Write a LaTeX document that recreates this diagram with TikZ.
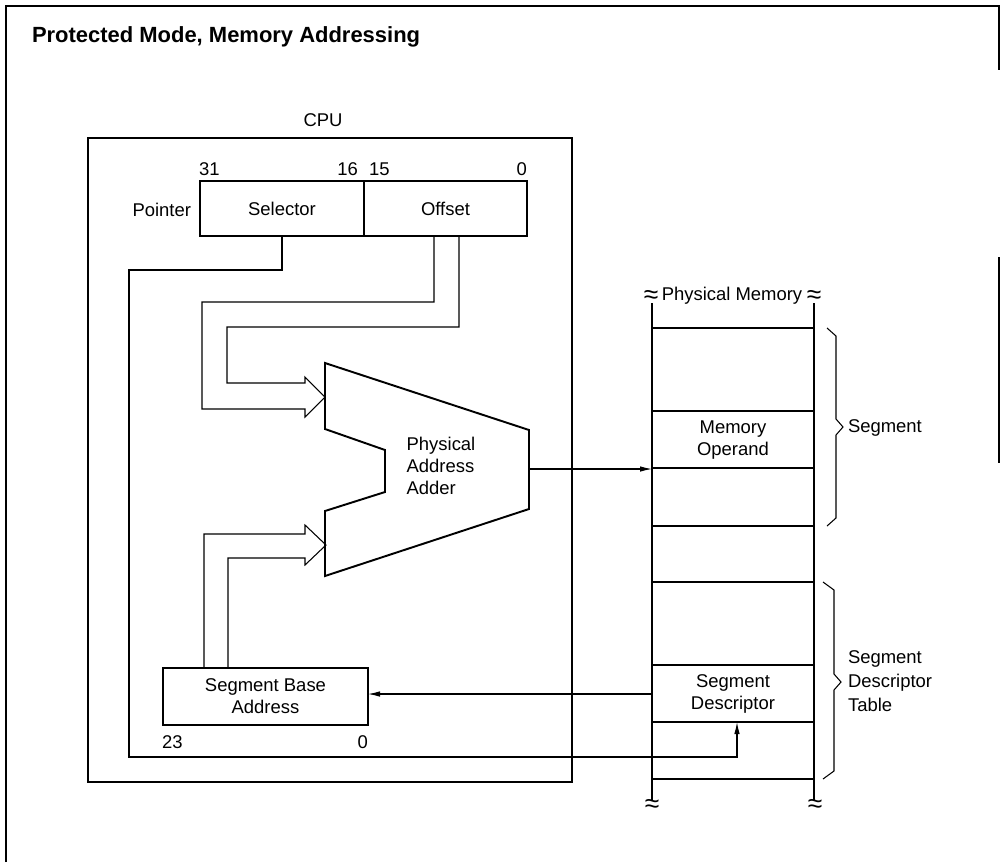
\documentclass[tikz,border=0pt]{standalone}
\usepackage{fontspec}
\setmainfont{Liberation Sans}
\usetikzlibrary{arrows.meta}

\begin{document}
\begin{tikzpicture}[x=0.2mm,y=-0.2mm,
  every node/.style={inner sep=0pt, outer sep=0pt, font=\fontsize{10.5}{12.5}\selectfont},
  reg/.style={draw, line width=1.1pt, minimum height=11mm},
  wire/.style={line width=0.6pt},
  bus/.style={line width=0.6pt, line join=miter},
  cell/.style={line width=1.2pt},
  wave/.style={font=\fontsize{15}{15}\selectfont},
  arr/.style={-{Latex[length=2.4mm,width=1.1mm]}}]

\useasboundingbox (0,0) rectangle (1001,862);

% frame
\draw[line width=1.1pt] (6,862) -- (6,6) -- (999,6) -- (999,70);
\draw[line width=1.1pt] (999,257) -- (999,463);
\node[anchor=base west, font=\fontsize{12.5}{15}\selectfont\bfseries] (title) at (32,42) {Protected Mode, Memory Addressing};

% CPU
\draw[line width=1.6pt] (88,138) rectangle (572,782);
\node[anchor=base] (cpu) at (323,126) {CPU};

\node[reg, minimum width=32.8mm] (sel) at (282,208.5) {Selector};
\node[reg, minimum width=32.6mm, anchor=west] (off) at (sel.east) {Offset};
\node[anchor=base east] (ptr) at (191,216) {Pointer};
\node[anchor=base west] (b31) at (199,175) {31};
\node[anchor=base east] (b16) at (358,175) {16};
\node[anchor=base west] (b15) at (369,175) {15};
\node[anchor=base east] (b0) at (527,175) {0};

\node[reg, minimum width=41mm, minimum height=11.4mm, align=center] (sba) at (265.5,696.5) {Segment Base\\Address};
\node[anchor=base west] (b23) at (162,748) {23};
\node[anchor=base east] (bb0) at (368,748) {0};

% adder
\draw[line width=1.1pt] (325,363) -- (529,430) -- (529,509) -- (325,576) -- (325,511)
  -- (385,492) -- (385,450) -- (325,429) -- cycle;
\coordinate (addin1) at (325,397);
\coordinate (addin2) at (326,545);
\coordinate (addout) at (529,469);
\node[align=left] (addtxt) at (441,466) {Physical\\Address\\Adder};

% buses into the adder
\draw[bus] ([xshift=-2.3mm]off.south) |- (202,302) |- (305,409) -- (305,417) -- (addin1)
  -- (305,377) -- (305,383) -| (227,327) -| ([xshift=2.7mm]off.south);
\draw[bus] ([xshift=-12.3mm]sba.north) |- (305,534) -- (305,525) -- (addin2)
  -- (305,565) -- (305,558) -| ([xshift=-7.5mm]sba.north);

% physical memory
\draw[line width=1.6pt] (652,303) -- (652,800);
\draw[line width=1.6pt] (814,303) -- (814,800);
\foreach \y in {328,411,468,526,582,665,722,779}
  \draw[cell] (652,\y) -- (814,\y);
\node[anchor=base] (pm) at (732,300) {Physical Memory};
\node[wave] (wtl) at (651,297) {≈};
\node[wave] (wtr) at (814,297) {≈};
\node[wave] (wbl) at (652,806) {≈};
\node[wave] (wbr) at (815,806) {≈};
\node[align=center] (memop) at (733,440) {Memory\\Operand};
\node[align=center] (segdesc) at (733,694) {Segment\\Descriptor};
\coordinate (memin) at (652,469);
\coordinate (descout) at (652,694);
\coordinate (descin) at (737,722);

% braces
\draw[wire] (827,328) -- (836,336) -- (836,419) -- (843,427) -- (836,435) -- (836,518) -- (827,526);
\node[anchor=base west] (seg) at (848,432) {Segment};
\draw[wire] (823,582) -- (834,590) -- (834,674) -- (841,682) -- (834,690) -- (834,771) -- (823,779);
\node[anchor=west, align=left, font=\fontsize{10.5}{13.5}\selectfont] (sdt) at (848,681) {Segment\\Descriptor\\Table};

% connections
\draw[wire, arr] (addout) -- (memin);
\draw[wire, arr] (descout) -- (descout -| sba.east);
\draw[wire, arr] (sel.south) |- (129,270) |- (737,757) -- (descin);
\end{tikzpicture}
\end{document}
